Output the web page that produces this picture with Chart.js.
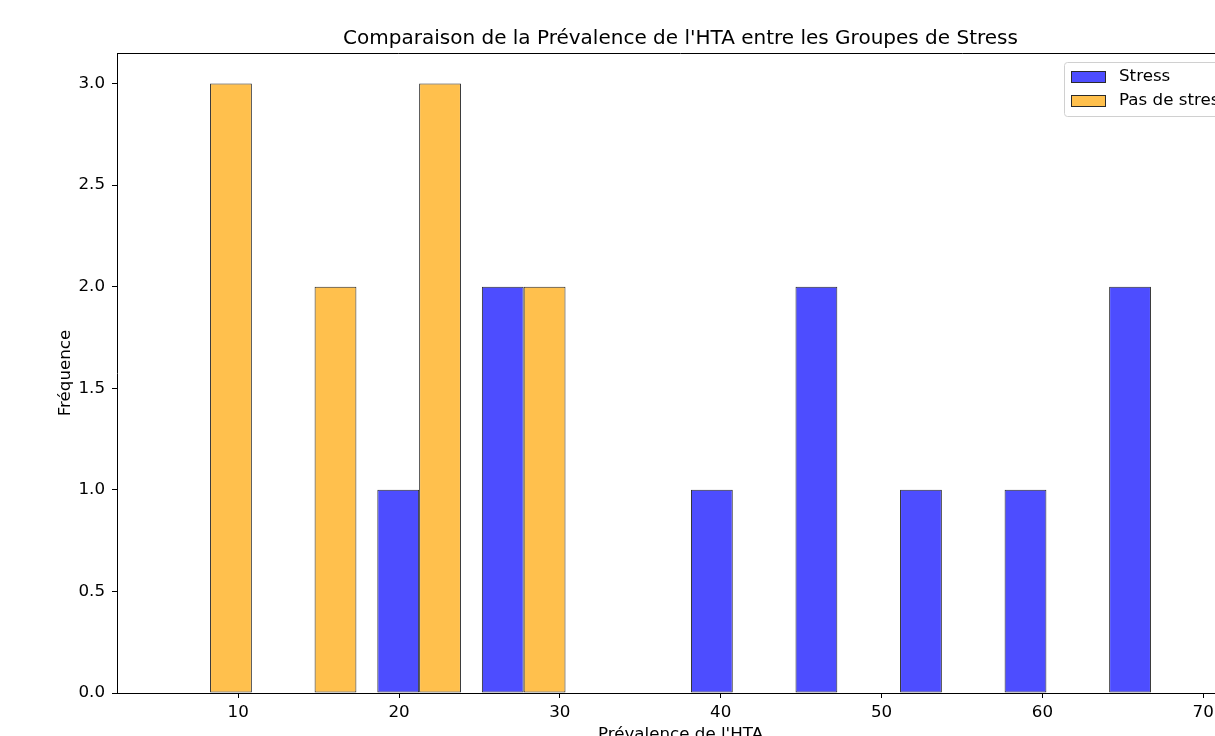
<!DOCTYPE html>
<html><head><meta charset="utf-8">
<script src="https://cdn.jsdelivr.net/npm/chart.js@4.4.1/dist/chart.umd.min.js"></script>
<style>html,body{margin:0;padding:0;overflow:hidden;background:#fff}canvas{display:block}</style>
</head><body>
<canvas id="c" width="1300" height="780"></canvas>
<script>
const binCenters = [8.25, 14.75, 21.25, 27.75, 34.25, 40.75, 47.25, 53.75, 60.25, 66.75];
const stressCounts = [0, 0, 1, 2, 0, 1, 2, 1, 1, 2];
const noStressCounts = [3, 2, 3, 2, 0, 0, 0, 0, 0, 0];
const seriesLabels = ['Stress', 'Pas de stress'];
const xTicks = [10, 20, 30, 40, 50, 60, 70];
const yTicks = [0, 0.5, 1, 1.5, 2, 2.5, 3];
const titleText = "Comparaison de la Prévalence de l'HTA entre les Groupes de Stress";
const xTitle = "Prévalence de l'HTA";
const yTitle = "Fréquence";

const FONT = '"DejaVu Sans", "Liberation Sans", sans-serif';
const FS = 16.7;

const overlay = {
  id: 'overlay',
  afterDraw(chart) {
    const {ctx, chartArea: a} = chart;
    ctx.save();
    ctx.strokeStyle = '#000'; ctx.lineWidth = 1;
    ctx.beginPath(); ctx.moveTo(a.left, a.top + 0.5); ctx.lineTo(a.right, a.top + 0.5); ctx.stroke();
    ctx.fillStyle = '#000'; ctx.font = '20px ' + FONT; ctx.textAlign = 'center'; ctx.textBaseline = 'alphabetic';
    ctx.fillText(titleText, (a.left + a.right) / 2, 44);
    // legend
    const lx = 1064.5, ly = 62.5, lw = 190, lh = 54, r = 3;
    ctx.beginPath();
    ctx.moveTo(lx + r, ly); ctx.lineTo(lx + lw - r, ly); ctx.arcTo(lx + lw, ly, lx + lw, ly + r, r);
    ctx.lineTo(lx + lw, ly + lh - r); ctx.arcTo(lx + lw, ly + lh, lx + lw - r, ly + lh, r);
    ctx.lineTo(lx + r, ly + lh); ctx.arcTo(lx, ly + lh, lx, ly + lh - r, r);
    ctx.lineTo(lx, ly + r); ctx.arcTo(lx, ly, lx + r, ly, r); ctx.closePath();
    ctx.fillStyle = 'rgba(255,255,255,0.8)'; ctx.fill();
    ctx.strokeStyle = '#d0d0d0'; ctx.stroke();
    chart.data.datasets.forEach((ds, i) => {
      const y = 71 + i * 24;
      ctx.fillStyle = ds.backgroundColor; ctx.fillRect(1071, y, 35, 12);
      ctx.strokeStyle = ds.borderColor; ctx.lineWidth = 1; ctx.strokeRect(1071.5, y + 0.5, 34, 11);
      ctx.fillStyle = '#000'; ctx.font = FS + 'px ' + FONT; ctx.textAlign = 'left'; ctx.textBaseline = 'middle';
      ctx.fillText(ds.label, 1119, y + 6);
    });
    ctx.restore();
  }
};

new Chart(document.getElementById('c'), {
  type: 'bar',
  data: {
    datasets: [
      {
        label: seriesLabels[0],
        data: binCenters.map((x, i) => ({x, y: stressCounts[i]})),
        backgroundColor: 'rgb(77,77,255)',
        borderColor: '#2a2a2a',
        borderWidth: 1,
        borderSkipped: false
      },
      {
        label: seriesLabels[1],
        data: binCenters.map((x, i) => ({x, y: noStressCounts[i]})),
        backgroundColor: 'rgb(255,192,77)',
        borderColor: '#2a2a2a',
        borderWidth: 1,
        borderSkipped: false
      }
    ]
  },
  options: {
    responsive: false,
    animation: false,
    devicePixelRatio: 1,
    categoryPercentage: 0.8,
    barPercentage: 1.0,
    layout: {padding: {left: 0, right: 56, top: 53, bottom: 0}},
    plugins: {legend: {display: false}, tooltip: {enabled: false}, title: {display: false}},
    scales: {
      x: {
        type: 'linear',
        min: 2.465,
        max: 72.535,
        offset: false,
        afterBuildTicks: s => { s.ticks = xTicks.map(v => ({value: v})); },
        afterFit: s => { s.height = 87; },
        ticks: {color: '#000', font: {family: FONT, size: FS}, padding: 5, maxRotation: 0, autoSkip: false},
        grid: {display: true, drawOnChartArea: false, drawTicks: true, tickLength: 5, tickColor: '#000', offset: false},
        border: {display: true, color: '#000', width: 1},
        title: {display: true, text: xTitle, color: '#000', font: {family: FONT, size: FS}, padding: {top: 0, bottom: 35}}
      },
      y: {
        type: 'linear',
        min: 0,
        max: 3.15,
        afterBuildTicks: s => { s.ticks = yTicks.map(v => ({value: v})); },
        afterFit: s => { s.width = 117; },
        ticks: {color: '#000', font: {family: FONT, size: FS}, padding: 7, callback: v => Number(v).toFixed(1)},
        grid: {display: true, drawOnChartArea: false, drawTicks: true, tickLength: 5, tickColor: '#000'},
        border: {display: true, color: '#000', width: 1},
        title: {display: true, text: yTitle, color: '#000', font: {family: FONT, size: FS}, padding: {top: 56, bottom: 0}}
      }
    }
  },
  plugins: [overlay]
});
</script>
</body></html>
